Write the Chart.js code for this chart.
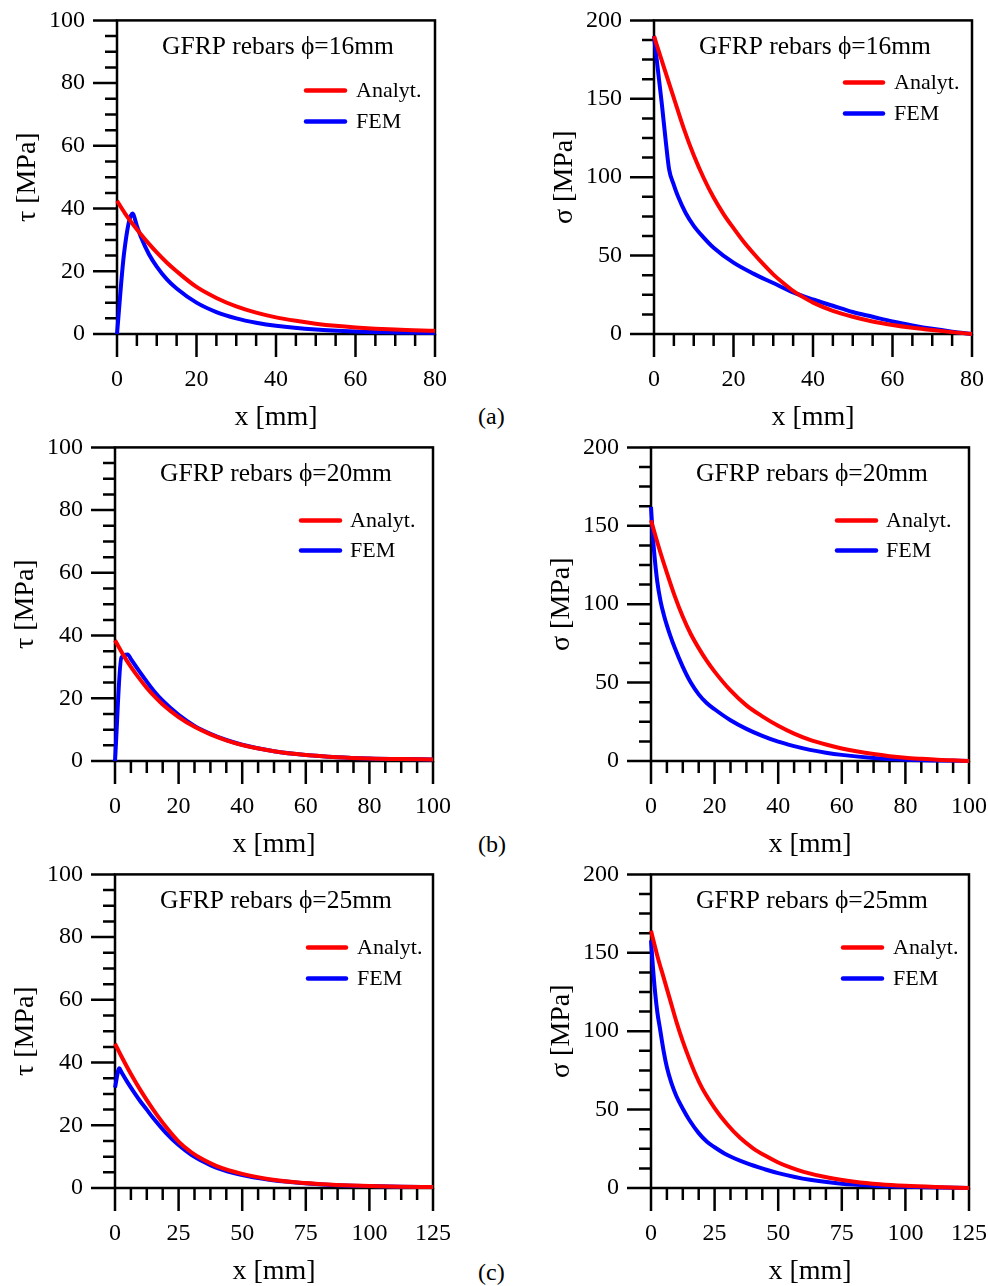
<!DOCTYPE html>
<html>
<head>
<meta charset="utf-8">
<script src="https://cdn.jsdelivr.net/npm/chart.js@4.4.0/dist/chart.umd.min.js"></script>
<style>
  html, body { margin: 0; padding: 0; background: #fff; overflow: hidden; }
  body { width: 988px; height: 1286px; position: relative; }
  canvas { position: absolute; }
  .tag { position: absolute; left: 478px; font: 24px "Liberation Serif", serif; line-height: 28px; color: #000; }
</style>
</head>
<body>
<canvas id="c1" width="464" height="440" style="left:1px;top:-2px"></canvas>
<canvas id="c2" width="464" height="440" style="left:538px;top:-2px"></canvas>
<canvas id="c3" width="464" height="440" style="left:-1px;top:425px"></canvas>
<canvas id="c4" width="464" height="440" style="left:535px;top:425px"></canvas>
<canvas id="c5" width="464" height="440" style="left:-1px;top:852px"></canvas>
<canvas id="c6" width="464" height="440" style="left:535px;top:852px"></canvas>
<div class="tag" style="top:402px">(a)</div>
<div class="tag" style="top:830px">(b)</div>
<div class="tag" style="top:1258px">(c)</div>
<script>
// ---- data ----
// phi = 16 mm
const xTau16An = [0, 2, 4, 6, 8, 10, 12.5, 15, 20, 25, 30, 35, 40, 45, 50, 55, 60, 70, 80];
const tau16An  = [42.5, 38.5, 35, 31.8, 28.8, 26, 22.8, 20, 15, 11.5, 8.8, 6.8, 5.3, 4.2, 3.3, 2.6, 2.1, 1.4, 1.0];
const xTau16Fem = [0, 1.8, 3.9, 5, 6, 8, 10, 12.5, 15, 20, 25, 30, 35, 40, 50, 60, 70, 80];
const tau16Fem  = [0, 26, 38.4, 34.5, 31, 25.5, 21.5, 17.5, 14.5, 10, 7, 5, 3.6, 2.6, 1.4, 0.8, 0.5, 0.3];
const xSig16An = [0, 2.5, 5, 7.5, 10, 12.5, 15, 17.5, 20, 22.5, 25, 27.5, 30, 32.5, 35, 37.5, 40, 45, 50, 55, 60, 65, 70, 75, 80];
const sig16An  = [190, 170, 150.5, 131, 114, 99.5, 87, 76.5, 67.5, 59, 51.5, 44.5, 38, 32.5, 27.5, 23.5, 20, 14.8, 11, 8, 5.8, 4, 2.5, 1.2, 0];
const xSig16Fem = [0, 1, 2, 3, 3.8, 5, 6, 8, 10, 12.5, 15, 20, 25, 30, 35, 40, 45, 50, 55, 60, 65, 70, 75, 80];
const sig16Fem  = [190, 168, 146, 122, 105, 95, 88, 77, 69, 61.5, 55, 45.5, 38.5, 32.5, 26.5, 22, 18, 14, 11, 8, 5.5, 3.3, 1.5, 0];

// phi = 20 mm
const xTau20An = [0, 2.5, 5, 7.5, 10, 12.5, 15, 20, 25, 30, 35, 40, 50, 60, 70, 80, 90, 100];
const tau20An  = [38.5, 34, 30, 26.5, 23.3, 20.5, 18, 14, 10.9, 8.5, 6.6, 5.1, 3.1, 1.9, 1.2, 0.8, 0.6, 0.5];
const xTau20Fem = [0, 2, 4, 5, 7.5, 10, 12.5, 15, 20, 25, 30, 35, 40, 50, 60, 70, 80, 90, 100];
const tau20Fem  = [0, 33, 34, 32.5, 28.8, 25.3, 22, 19.2, 14.7, 11.2, 8.7, 6.7, 5.2, 3.1, 1.9, 1.2, 0.8, 0.6, 0.5];
const xSig20An = [0, 2.5, 5, 7.5, 10, 12.5, 15, 17.5, 20, 25, 30, 35, 40, 45, 50, 55, 60, 65, 70, 75, 80, 85, 90, 95, 100];
const sig20An  = [153.5, 136, 120, 105, 92, 81, 72, 64, 57, 45, 35.5, 28.5, 22.5, 17.5, 13.5, 10.5, 8, 6, 4.4, 3.1, 2.1, 1.4, 0.8, 0.4, 0];
const xSig20Fem = [0, 0.5, 1, 2, 3, 4, 5, 6, 7.5, 10, 12.5, 15, 17.5, 20, 25, 30, 35, 40, 45, 50, 55, 60, 70, 80, 90, 100];
const sig20Fem  = [162, 146, 133, 114, 102, 93.5, 86.5, 80.3, 72, 60, 50, 42.5, 37, 33, 26, 20.5, 16, 12.3, 9.5, 7.1, 5.3, 3.9, 1.9, 0.8, 0.3, 0];

// phi = 25 mm
const xTau25An = [0, 2.5, 5, 7.5, 10, 12.5, 15, 20, 25, 30, 35, 40, 50, 60, 70, 80, 90, 100, 112.5, 125];
const tau25An  = [46, 42, 38.2, 34.6, 31.2, 28, 25, 19.5, 14.8, 11.4, 8.9, 7, 4.5, 2.9, 1.9, 1.3, 0.9, 0.6, 0.4, 0.3];
const xTau25Fem = [0, 1.7, 2.5, 5, 7.5, 10, 12.5, 15, 20, 25, 30, 35, 40, 50, 60, 70, 80, 90, 100, 112.5, 125];
const tau25Fem  = [32, 38.2, 37, 33.6, 30.5, 27.6, 25, 22.3, 17.6, 13.7, 10.6, 8.3, 6.4, 4.1, 2.7, 1.8, 1.2, 0.8, 0.6, 0.4, 0.3];
const xSig25An = [0, 2.5, 5, 7.5, 10, 12.5, 15, 17.5, 20, 25, 30, 35, 40, 45, 50, 55, 60, 70, 80, 90, 100, 112.5, 125];
const sig25An  = [164, 148, 134, 120, 106, 93.5, 82.5, 72.5, 64, 51, 40.5, 32, 25.5, 20.5, 16.3, 13, 10.3, 6.5, 4, 2.4, 1.4, 0.6, 0];
const xSig25Fem = [0, 0.8, 1.6, 2.5, 3.5, 5, 6.25, 8, 10, 12.5, 15, 18.75, 22, 25, 30, 37.5, 45, 50, 62.5, 75, 87.5, 100, 112.5, 125];
const sig25Fem  = [158, 140, 125, 112, 102, 87, 77, 67, 58.5, 50.5, 43.5, 35, 29.5, 26, 21, 15.8, 11.8, 9.5, 5.2, 2.7, 1.5, 0.8, 0.3, 0];

// axis ranges / tick steps
const xMaxes  = [80, 100, 125];
const xMajors = [20, 20, 25];
const xMinors = [5, 5, 6.25];
const tauAxis = { max: 100, major: 20, minor: 5 };
const sigAxis = { max: 200, major: 50, minor: 12.5 };
const titles = ['GFRP rebars \u03D5=16mm', 'GFRP rebars \u03D5=20mm', 'GFRP rebars \u03D5=25mm'];
const seriesNames = ['Analyt.', 'FEM'];

const FONT = '"Liberation Serif", "Times New Roman", serif';

const panels = [
  { id: 'c1', row: 0, yAx: tauAxis, yTitle: '\u03C4 [MPa]', an: [xTau16An, tau16An], fem: [xTau16Fem, tau16Fem], leg: [-129, -90, -79, 70, 101] },
  { id: 'c2', row: 0, yAx: sigAxis, yTitle: '\u03C3 [MPa]', an: [xSig16An, sig16An], fem: [xSig16Fem, sig16Fem], leg: [-127, -89, -78, 62, 93] },
  { id: 'c3', row: 1, yAx: tauAxis, yTitle: '\u03C4 [MPa]', an: [xTau20An, tau20An], fem: [xTau20Fem, tau20Fem], leg: [-132, -93, -83, 73, 103] },
  { id: 'c4', row: 1, yAx: sigAxis, yTitle: '\u03C3 [MPa]', an: [xSig20An, sig20An], fem: [xSig20Fem, sig20Fem], leg: [-132, -93, -83, 73, 103] },
  { id: 'c5', row: 2, yAx: tauAxis, yTitle: '\u03C4 [MPa]', an: [xTau25An, tau25An], fem: [xTau25Fem, tau25Fem], leg: [-125, -87, -76, 73, 104] },
  { id: 'c6', row: 2, yAx: sigAxis, yTitle: '\u03C3 [MPa]', an: [xSig25An, sig25An], fem: [xSig25Fem, sig25Fem], leg: [-126, -87, -76, 73, 104] }
];

const isMajor = (v, step) => Math.abs(v / step - Math.round(v / step)) < 1e-6;
const pairs = (xs, ys) => xs.map((x, i) => ({ x: x, y: ys[i] }));
const tickList = (max, step) => {
  const out = [];
  for (let i = 0; i * step <= max + 1e-9; i++) out.push({ value: i * step });
  return out;
};

// box, minor/major ticks, inset title and legend
const framePlugin = {
  id: 'frame',
  beforeDatasetsDraw(chart, args, o) {
    const { ctx, chartArea: a, scales } = chart;
    ctx.save();
    ctx.strokeStyle = '#000';
    ctx.lineWidth = 2.5;
    ctx.strokeRect(a.left, a.top, a.right - a.left, a.bottom - a.top);
    ctx.beginPath();
    scales.x.ticks.forEach(t => {
      const px = scales.x.getPixelForValue(t.value);
      ctx.moveTo(px, a.bottom);
      ctx.lineTo(px, a.bottom + (isMajor(t.value, o.xMajor) ? 23 : 12));
    });
    scales.y.ticks.forEach(t => {
      const py = scales.y.getPixelForValue(t.value);
      ctx.moveTo(a.left, py);
      ctx.lineTo(a.left - (isMajor(t.value, o.yMajor) ? 24 : 12), py);
    });
    ctx.stroke();
    ctx.restore();
  },
  afterDatasetsDraw(chart, args, o) {
    const { ctx, chartArea: a } = chart;
    ctx.save();
    ctx.fillStyle = '#000';
    ctx.font = '25.5px ' + FONT;
    ctx.textAlign = 'center';
    ctx.textBaseline = 'alphabetic';
    ctx.fillText(o.title, (a.left + a.right) / 2 + 2, a.top + 34);
    const [x0, x1, tx, y1, y2] = o.leg;
    ctx.lineWidth = 4.5;
    ctx.lineCap = 'round';
    ctx.font = '22px ' + FONT;
    ctx.textAlign = 'left';
    ctx.textBaseline = 'middle';
    chart.data.datasets.forEach((ds, i) => {
      const yy = a.top + (i === 0 ? y1 : y2);
      ctx.strokeStyle = ds.borderColor;
      ctx.beginPath();
      ctx.moveTo(a.right + x0, yy);
      ctx.lineTo(a.right + x1, yy);
      ctx.stroke();
      ctx.fillText(ds.label, a.right + tx, yy + 1);
    });
    ctx.restore();
  }
};

panels.forEach(p => {
  const xMax = xMaxes[p.row], xMajor = xMajors[p.row], xMinor = xMinors[p.row];
  const line = (label, xy, color) => ({
    label: label,
    data: pairs(xy[0], xy[1]),
    borderColor: color,
    borderWidth: 4,
    pointRadius: 0,
    fill: false,
    cubicInterpolationMode: 'monotone',
    clip: false
  });
  new Chart(document.getElementById(p.id), {
    type: 'line',
    data: {
      datasets: [
        line(seriesNames[0], p.an, '#ff0000'),
        line(seriesNames[1], p.fem, '#0000ff')
      ]
    },
    options: {
      responsive: false,
      animation: false,
      devicePixelRatio: 1,
      layout: { padding: { top: 20, right: 30, left: 0, bottom: 0 } },
      plugins: {
        legend: { display: false },
        tooltip: { enabled: false },
        frame: { xMajor: xMajor, yMajor: p.yAx.major, title: titles[p.row], leg: p.leg }
      },
      scales: {
        x: {
          type: 'linear', min: 0, max: xMax,
          afterBuildTicks: s => { s.ticks = tickList(xMax, xMinor); },
          afterFit: s => { s.height = 104; },
          ticks: {
            autoSkip: false, maxRotation: 0, padding: 8, color: '#000',
            font: { family: FONT, size: 24 },
            callback: v => isMajor(v, xMajor) ? String(v) : ''
          },
          grid: { drawOnChartArea: false, drawTicks: true, tickLength: 23, tickColor: 'rgba(0,0,0,0)' },
          border: { display: false },
          title: { display: true, text: 'x [mm]', color: '#000', font: { family: FONT, size: 28 }, padding: { top: 0, bottom: 4 } }
        },
        y: {
          type: 'linear', min: 0, max: p.yAx.max,
          afterBuildTicks: s => { s.ticks = tickList(p.yAx.max, p.yAx.minor); },
          afterFit: s => { s.width = 116; },
          ticks: {
            autoSkip: false, padding: 8, color: '#000',
            font: { family: FONT, size: 24 },
            callback: v => isMajor(v, p.yAx.major) ? String(v) : ''
          },
          grid: { drawOnChartArea: false, drawTicks: true, tickLength: 24, tickColor: 'rgba(0,0,0,0)' },
          border: { display: false },
          title: { display: true, text: p.yTitle, color: '#000', font: { family: FONT, size: 28 }, padding: { top: 10, bottom: 0 } }
        }
      }
    },
    plugins: [framePlugin]
  });
});
</script>
</body>
</html>
